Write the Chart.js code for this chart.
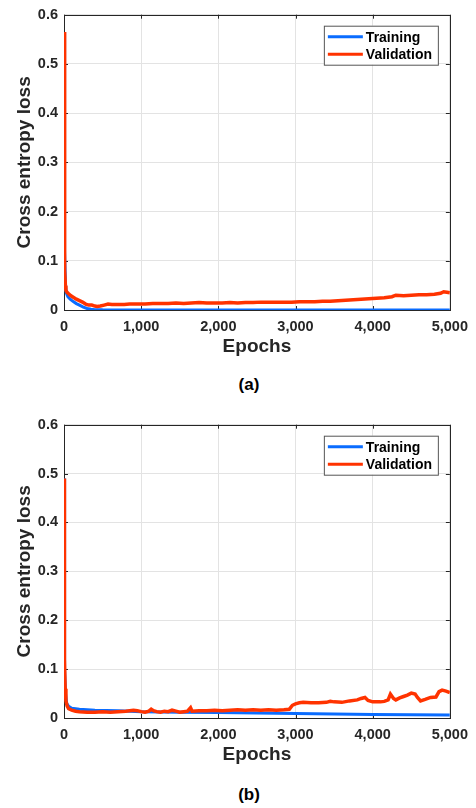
<!DOCTYPE html>
<html>
<head>
<meta charset="utf-8">
<script src="https://cdn.jsdelivr.net/npm/chart.js@4.4.0/dist/chart.umd.min.js"></script>
<style>
  body { margin: 0; background: #fff; width: 476px; height: 808px; position: relative; overflow: hidden; }
  .wrap { position: absolute; left: 0; width: 476px; }
  .cap { position: absolute; left: 0; width: 498px; text-align: center; font: bold 17px "Liberation Sans", Arial, sans-serif; color: #000; }
</style>
</head>
<body>
<div class="wrap" style="top:0;height:360px"><canvas id="lossA"></canvas></div>
<div class="cap" style="top:375px">(a)</div>
<div class="wrap" style="top:410px;height:358px"><canvas id="lossB"></canvas></div>
<div class="cap" style="top:785px">(b)</div>
<script>
// (a) curves
const trainEpochsA = [0, 5, 10, 20, 30, 50, 80, 120, 160, 200, 250, 300, 350, 400, 500, 1000, 2000, 3000, 4000, 5000];
const trainLossA = [0.565, 0.30, 0.12, 0.05, 0.035, 0.027, 0.022, 0.017, 0.013, 0.010, 0.006, 0.003, 0.0015, 0.0007, 0.0003, 0.0002, 0.0001, 0.0001, 0.0001, 0.0001];
const validEpochsA = [0, 4, 8, 12, 18, 25, 40, 60, 90, 120, 160, 200, 240, 280, 320, 360, 400, 430, 470, 520, 570, 620, 700, 780, 850, 950,
  1050, 1150, 1250, 1350, 1450, 1550, 1650, 1750, 1850, 1950, 2050, 2150, 2250, 2350, 2450, 2550, 2650, 2750, 2850, 2950,
  3050, 3150, 3250, 3350, 3450, 3550, 3650, 3750, 3850, 3950, 4050, 4150, 4250, 4300, 4400, 4500, 4600, 4700, 4800, 4880, 4920, 4960, 5000];
const validLossA = [0.565, 0.35, 0.15, 0.08, 0.05, 0.04, 0.036, 0.033, 0.029, 0.026, 0.022, 0.019, 0.016, 0.012, 0.010, 0.010, 0.008, 0.007, 0.008, 0.010, 0.012, 0.011, 0.011, 0.011, 0.012, 0.012,
  0.012, 0.013, 0.013, 0.013, 0.014, 0.013, 0.014, 0.015, 0.014, 0.014, 0.014, 0.015, 0.014, 0.015, 0.015, 0.016, 0.016, 0.016, 0.016, 0.016,
  0.017, 0.017, 0.017, 0.018, 0.018, 0.019, 0.020, 0.021, 0.022, 0.023, 0.024, 0.025, 0.027, 0.030, 0.029, 0.030, 0.031, 0.031, 0.032, 0.034, 0.037, 0.036, 0.035];

// (b) curves
const trainEpochsB = [0, 5, 10, 20, 35, 60, 100, 200, 400, 700, 1000, 1500, 2000, 2500, 3000, 3500, 4000, 4500, 5000];
const trainLossB = [0.49, 0.25, 0.10, 0.05, 0.03, 0.024, 0.020, 0.018, 0.016, 0.015, 0.013, 0.012, 0.011, 0.010, 0.009, 0.008, 0.007, 0.0065, 0.006];
const validEpochsB = [0, 4, 8, 15, 25, 40, 60, 100, 150, 200, 300, 400, 500, 600, 700, 800, 900, 950, 1000, 1050, 1100, 1130, 1160, 1200, 1250,
  1300, 1350, 1400, 1450, 1500, 1550, 1600, 1640, 1660, 1750, 1850, 1950, 2050, 2150, 2250, 2350, 2450, 2550, 2650, 2750, 2850, 2920,
  2960, 3000, 3050, 3100, 3200, 3300, 3400, 3450, 3500, 3600, 3700, 3800, 3850, 3900, 3940, 4000, 4100, 4150, 4200, 4230, 4270, 4300,
  4350, 4400, 4450, 4500, 4550, 4580, 4620, 4680, 4750, 4820, 4860, 4900, 4950, 5000];
const validLossB = [0.49, 0.30, 0.12, 0.06, 0.035, 0.025, 0.019, 0.016, 0.014, 0.013, 0.012, 0.012, 0.013, 0.012, 0.013, 0.014, 0.016, 0.015, 0.013, 0.012, 0.014, 0.018, 0.015, 0.013, 0.012,
  0.014, 0.013, 0.016, 0.014, 0.012, 0.013, 0.014, 0.021, 0.014, 0.015, 0.015, 0.016, 0.015, 0.016, 0.017, 0.016, 0.017, 0.016, 0.017, 0.016, 0.017, 0.018,
  0.026, 0.029, 0.031, 0.032, 0.031, 0.031, 0.032, 0.034, 0.033, 0.032, 0.035, 0.037, 0.040, 0.042, 0.036, 0.033, 0.033, 0.034, 0.037, 0.049, 0.040, 0.037,
  0.041, 0.044, 0.047, 0.051, 0.049, 0.042, 0.035, 0.038, 0.042, 0.043, 0.054, 0.057, 0.055, 0.052];

const xTicks = [0, 1000, 2000, 3000, 4000, 5000];
const yTicks = [0, 0.1, 0.2, 0.3, 0.4, 0.5, 0.6];
const seriesNames = ['Training', 'Validation'];
const seriesColors = ['#0a6cff', '#ff3300'];

const FONT = '"Liberation Sans", Arial, sans-serif';
const INK = '#262626';

const toPoints = (xs, ys) => xs.map((x, i) => ({ x: x, y: ys[i] }));

// box + inward ticks under the lines, legend on top (matlab look)
const frame = {
  id: 'frame',
  beforeDatasetsDraw(chart) {
    const { ctx, chartArea: a, scales } = chart;
    ctx.save();
    ctx.strokeStyle = INK;
    ctx.lineWidth = 1;
    ctx.beginPath();
    for (const v of xTicks) {
      const px = Math.round(scales.x.getPixelForValue(v)) + 0.5;
      ctx.moveTo(px, a.bottom); ctx.lineTo(px, a.bottom - 4);
      ctx.moveTo(px, a.top); ctx.lineTo(px, a.top + 4);
    }
    for (const v of yTicks) {
      const py = Math.round(scales.y.getPixelForValue(v)) + 0.5;
      ctx.moveTo(a.left, py); ctx.lineTo(a.left + 4, py);
      ctx.moveTo(a.right, py); ctx.lineTo(a.right - 4, py);
    }
    ctx.stroke();
    ctx.strokeRect(Math.round(a.left) + 0.5, Math.round(a.top) + 0.5, Math.round(a.right - a.left), Math.round(a.bottom - a.top));
    ctx.restore();
  },
  afterDatasetsDraw(chart) {
    const { ctx, chartArea: a } = chart;
    ctx.save();
    const bx = a.right - 126, by = a.top + 11, bw = 114, bh = 39;
    ctx.fillStyle = '#fff';
    ctx.fillRect(bx, by, bw, bh);
    ctx.strokeStyle = '#555';
    ctx.lineWidth = 1;
    ctx.strokeRect(bx + 0.5, by + 0.5, bw, bh);
    ctx.font = 'bold 14px ' + FONT;
    ctx.textBaseline = 'middle';
    seriesNames.forEach((name, i) => {
      const ly = by + 11 + i * 17.5;
      ctx.strokeStyle = seriesColors[i];
      ctx.lineWidth = 3;
      ctx.beginPath();
      ctx.moveTo(bx + 4, ly); ctx.lineTo(bx + 39, ly);
      ctx.stroke();
      ctx.fillStyle = '#000';
      ctx.fillText(name, bx + 42, ly + 1);
    });
    ctx.restore();
  }
};

function makeChart(id, tx, ty, vx, vy) {
  return new Chart(document.getElementById(id), {
    type: 'line',
    data: {
      datasets: [
        { label: seriesNames[1], data: toPoints(vx, vy), borderColor: seriesColors[1], borderWidth: 3.5, pointRadius: 0, tension: 0, order: 0 },
        { label: seriesNames[0], data: toPoints(tx, ty), borderColor: seriesColors[0], borderWidth: 3, pointRadius: 0, tension: 0, order: 1 }
      ]
    },
    plugins: [frame],
    options: {
      responsive: true,
      maintainAspectRatio: false,
      animation: false,
      layout: { padding: { top: 10, right: 24, left: 0, bottom: 0 } },
      plugins: { legend: { display: false }, tooltip: { enabled: false } },
      scales: {
        x: {
          type: 'linear', min: 0, max: 5000,
          afterBuildTicks: s => { s.ticks = xTicks.map(v => ({ value: v })); },
          afterFit: s => { s.height = 50; },
          grid: { color: '#e3e3e3', drawTicks: false },
          border: { display: false },
          ticks: { padding: 8, color: INK, font: { family: FONT, size: 14.5, weight: 'bold' }, maxRotation: 0,
            callback: v => v.toLocaleString('en-US') },
          title: { display: true, text: 'Epochs', color: INK, font: { family: FONT, size: 19, weight: 'bold' }, padding: { top: 0, bottom: 2 } }
        },
        y: {
          type: 'linear', min: 0, max: 0.6,
          afterBuildTicks: s => { s.ticks = yTicks.map(v => ({ value: v })); },
          afterFit: s => { s.width = 64; },
          grid: { color: '#e3e3e3', drawTicks: false },
          border: { display: false },
          ticks: { padding: 6, color: INK, font: { family: FONT, size: 14.5, weight: 'bold' },
            callback: v => String(+v.toFixed(1)) },
          title: { display: true, text: 'Cross entropy loss', color: INK, font: { family: FONT, size: 19, weight: 'bold' }, padding: { top: 13, bottom: 0 } }
        }
      }
    }
  });
}

makeChart('lossA', trainEpochsA, trainLossA, validEpochsA, validLossA);
makeChart('lossB', trainEpochsB, trainLossB, validEpochsB, validLossB);
</script>
</body>
</html>
